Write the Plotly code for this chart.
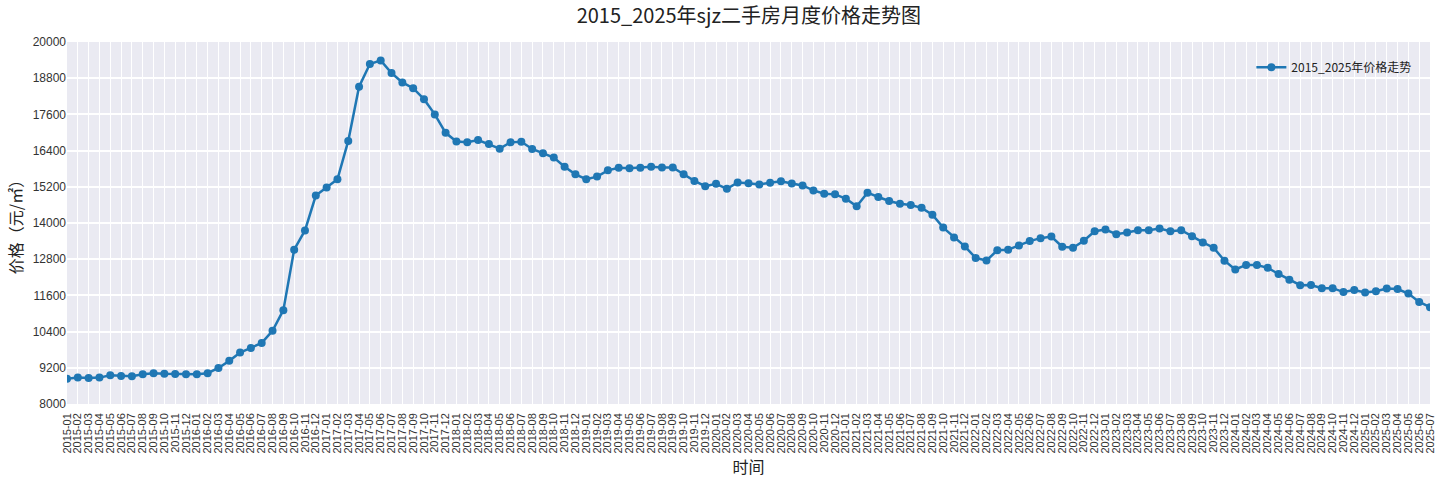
import plotly.graph_objects as go

# months 2015-01 .. 2025-07
years = list(range(2015, 2026))
months = ['%d-%02d' % (y, m) for y in years for m in range(1, 13)][:127]

# monthly average price (yuan / m2)
price_2015 = [8840, 8875, 8865, 8875, 8950, 8930, 8920, 8985, 9020, 9005, 8995, 8985]
price_2016 = [8985, 9020, 9195, 9430, 9705, 9860, 10025, 10425, 11110, 13115, 13755, 14910]
price_2017 = [15175, 15450, 16720, 18520, 19270, 19390, 18970, 18660, 18470, 18105, 17600, 16990]
price_2018 = [16700, 16680, 16750, 16620, 16465, 16673, 16694, 16454, 16313, 16171, 15865, 15614]
price_2019 = [15451, 15538, 15745, 15833, 15811, 15833, 15865, 15843, 15843, 15614, 15396, 15222]
price_2020 = [15298, 15134, 15342, 15320, 15276, 15331, 15385, 15309, 15244, 15080, 14971, 14949]
price_2021 = [14807, 14556, 15004, 14862, 14731, 14640, 14595, 14502, 14273, 13847, 13520, 13225]
price_2022 = [12843, 12756, 13094, 13116, 13258, 13400, 13498, 13553, 13214, 13182, 13411, 13727]
price_2023 = [13782, 13629, 13684, 13760, 13760, 13814, 13727, 13760, 13564, 13356, 13182, 12750]
price_2024 = [12460, 12610, 12610, 12515, 12310, 12115, 11940, 11945, 11840, 11840, 11710, 11775]
price_2025 = [11700, 11740, 11830, 11810, 11660, 11385, 11210]

prices = (price_2015 + price_2016 + price_2017 + price_2018 + price_2019 + price_2020
          + price_2021 + price_2022 + price_2023 + price_2024 + price_2025)

y_ticks = list(range(8000, 20001, 1200))
y_labels = [str(v) for v in y_ticks]

cjk = 'Noto Sans CJK SC'
latin = 'Liberation Sans, Arial, sans-serif'

trace = go.Scatter(
    x=months,
    y=prices,
    mode='lines+markers',
    name='2015_2025年价格走势',
    line=dict(color='#1f77b4', width=2.5),
    marker=dict(color='#1f77b4', size=8),
)

fig = go.Figure(data=[trace])
fig.update_layout(
    width=1440, height=480,
    margin=dict(l=67, r=10, t=42, b=76),
    paper_bgcolor='white',
    plot_bgcolor='#EAEAF2',
    title=dict(text='2015_2025年sjz二手房月度价格走势图', x=0.52, xanchor='center',
               y=0.966, yref='container', yanchor='middle',
               font=dict(family=cjk, size=20, color='#222222')),
    legend=dict(x=0.99, y=0.97, xanchor='right', yanchor='top',
                bgcolor='rgba(0,0,0,0)', font=dict(family=cjk, size=12, color='#222222')),
    showlegend=True,
)
fig.update_xaxes(
    type='category', tickmode='array', tickvals=months, ticktext=months,
    tickangle=-90, tickfont=dict(family=latin, size=11, color='#333333'),
    ticklabelstandoff=6,
    range=[0, len(months) - 1],
    showgrid=True, gridcolor='white', gridwidth=1.3,
    zeroline=False, showline=False, ticks='',
    title=dict(text='时间', font=dict(family=cjk, size=16, color='#222222'), standoff=2),
    automargin=False,
)
fig.update_yaxes(
    range=[8000, 20000], tickmode='array', tickvals=y_ticks, ticktext=y_labels,
    tickfont=dict(family=latin, size=12, color='#333333'),
    showgrid=True, gridcolor='white', gridwidth=1.5,
    zeroline=False, showline=False, ticks='',
    title=dict(text='价格（元/㎡）', font=dict(family=cjk, size=16, color='#222222'), standoff=6),
    automargin=False,
)

# drop the page's default body margin so the 1440x480 figure fills the window
fig.write_html('out.html', config={'displayModeBar': False},
               post_script="document.body.style.margin='0';")
